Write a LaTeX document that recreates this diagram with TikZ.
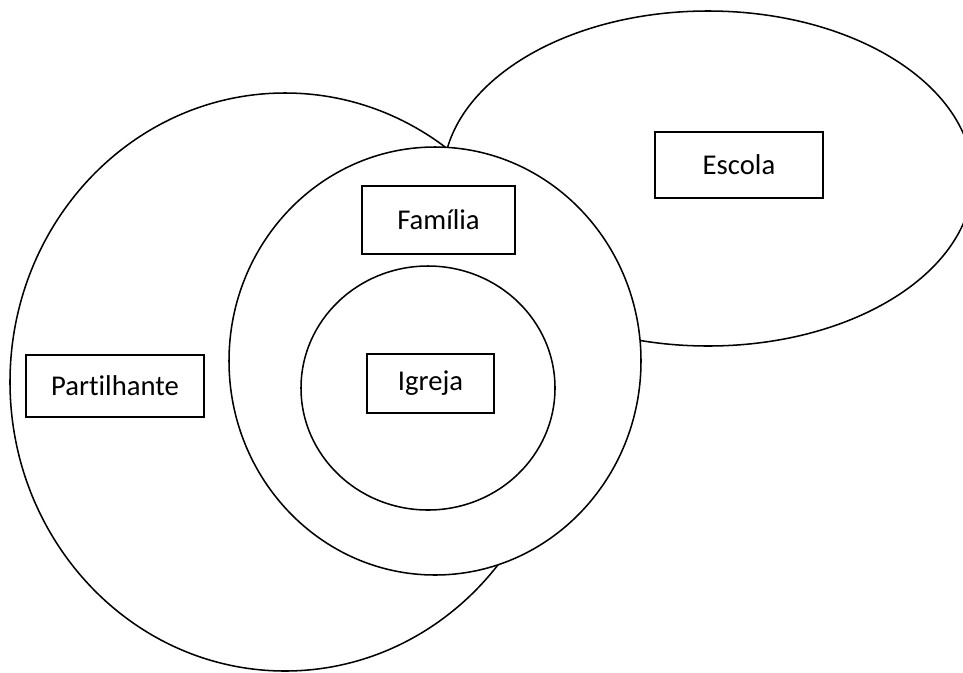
\documentclass[tikz,border=0pt]{standalone}
\usepackage{fontspec}
\setmainfont[Ligatures=NoCommon]{Carlito}
\usetikzlibrary{shapes.geometric}
\begin{document}
\begin{tikzpicture}[x=0.75pt,y=-0.75pt,
  ring/.style={draw=black,line width=1.15pt,fill=white},
  label/.style={draw=black,line width=1.15pt,fill=white,font=\fontsize{21.5}{26}\selectfont,inner sep=0pt,anchor=center}]
\path[use as bounding box] (0,0) rectangle (963,672);
\clip (0,0) rectangle (963,672);
\draw[ring] (708,178.5) ellipse [x radius=265, y radius=167.5];
\draw[ring] (285,382) ellipse [x radius=275, y radius=289];
\draw[ring] (435,361) ellipse [x radius=206, y radius=214];
\draw[ring] (428,388) ellipse [x radius=127, y radius=122];
\node[label,minimum width=168*0.75pt,minimum height=66*0.75pt] (escola) at (739,165) {Escola};
\node[label,minimum width=153*0.75pt,minimum height=68*0.75pt] (familia) at (438.5,220) {Família};
\node[label,minimum width=178*0.75pt,minimum height=62*0.75pt] (partilhante) at (115,386) {Partilhante};
\node[label,minimum width=127*0.75pt,minimum height=59*0.75pt] (igreja) at (430.5,383.5) {Igreja};
\end{tikzpicture}
\end{document}
